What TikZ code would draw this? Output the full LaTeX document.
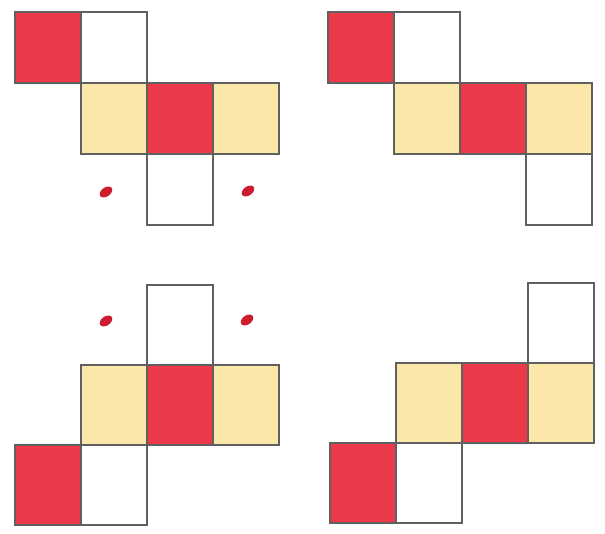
\documentclass[tikz,border=0pt]{standalone}
\usepackage{xcolor}
\usepackage{tikz}
\usetikzlibrary{positioning, shapes.geometric}
\definecolor{facered}{RGB}{236,58,74}
\definecolor{faceyellow}{RGB}{251,231,168}
\definecolor{edgegray}{RGB}{96,96,96}
\definecolor{dotred}{RGB}{205,28,48}

\begin{document}
\begin{tikzpicture}[
    x=0.5pt, y=-0.5pt,
    node distance=0pt,
    face/.style={draw=edgegray, line width=1pt, outer sep=0pt, inner sep=0pt, minimum width=33pt},
    tall/.style={face, minimum height=35.5pt},
    taller/.style={face, minimum height=40pt},
    redface/.style={fill=facered},
    yellowface/.style={fill=faceyellow},
    whiteface/.style={fill=white},
    spot/.style={ellipse, fill=dotred, minimum width=7pt, minimum height=4.5pt, inner sep=0pt, rotate=35}
]
\useasboundingbox (0,0) rectangle (605,534);

% Net top left
\node[tall, redface, anchor=north west] (tl1) at (15,12) {};
\node[tall, whiteface, right=of tl1] (tl2) {};
\node[tall, yellowface, below=of tl2] (tl3) {};
\node[tall, redface, right=of tl3] (tl4) {};
\node[tall, yellowface, right=of tl4] (tl5) {};
\node[tall, whiteface, below=of tl4] (tl6) {};
\node[spot] (tlspot1) at (106,192) {};
\node[spot] (tlspot2) at (248,191) {};

% Net top right
\node[tall, redface, anchor=north west] (tr1) at (328,12) {};
\node[tall, whiteface, right=of tr1] (tr2) {};
\node[tall, yellowface, below=of tr2] (tr3) {};
\node[tall, redface, right=of tr3] (tr4) {};
\node[tall, yellowface, right=of tr4] (tr5) {};
\node[tall, whiteface, below=of tr5] (tr6) {};

% Net bottom left
\node[taller, whiteface, anchor=north west] (bl1) at (147,285) {};
\node[taller, redface, below=of bl1] (bl2) {};
\node[taller, yellowface, left=of bl2] (bl3) {};
\node[taller, yellowface, right=of bl2] (bl4) {};
\node[taller, whiteface, below=of bl3] (bl5) {};
\node[taller, redface, left=of bl5] (bl6) {};
\node[spot] (blspot1) at (106,321) {};
\node[spot] (blspot2) at (247,320) {};

% Net bottom right
\node[taller, whiteface, anchor=north west] (br1) at (528,283) {};
\node[taller, yellowface, below=of br1] (br2) {};
\node[taller, redface, left=of br2] (br3) {};
\node[taller, yellowface, left=of br3] (br4) {};
\node[taller, whiteface, below=of br4] (br5) {};
\node[taller, redface, left=of br5] (br6) {};

\end{tikzpicture}
\end{document}
